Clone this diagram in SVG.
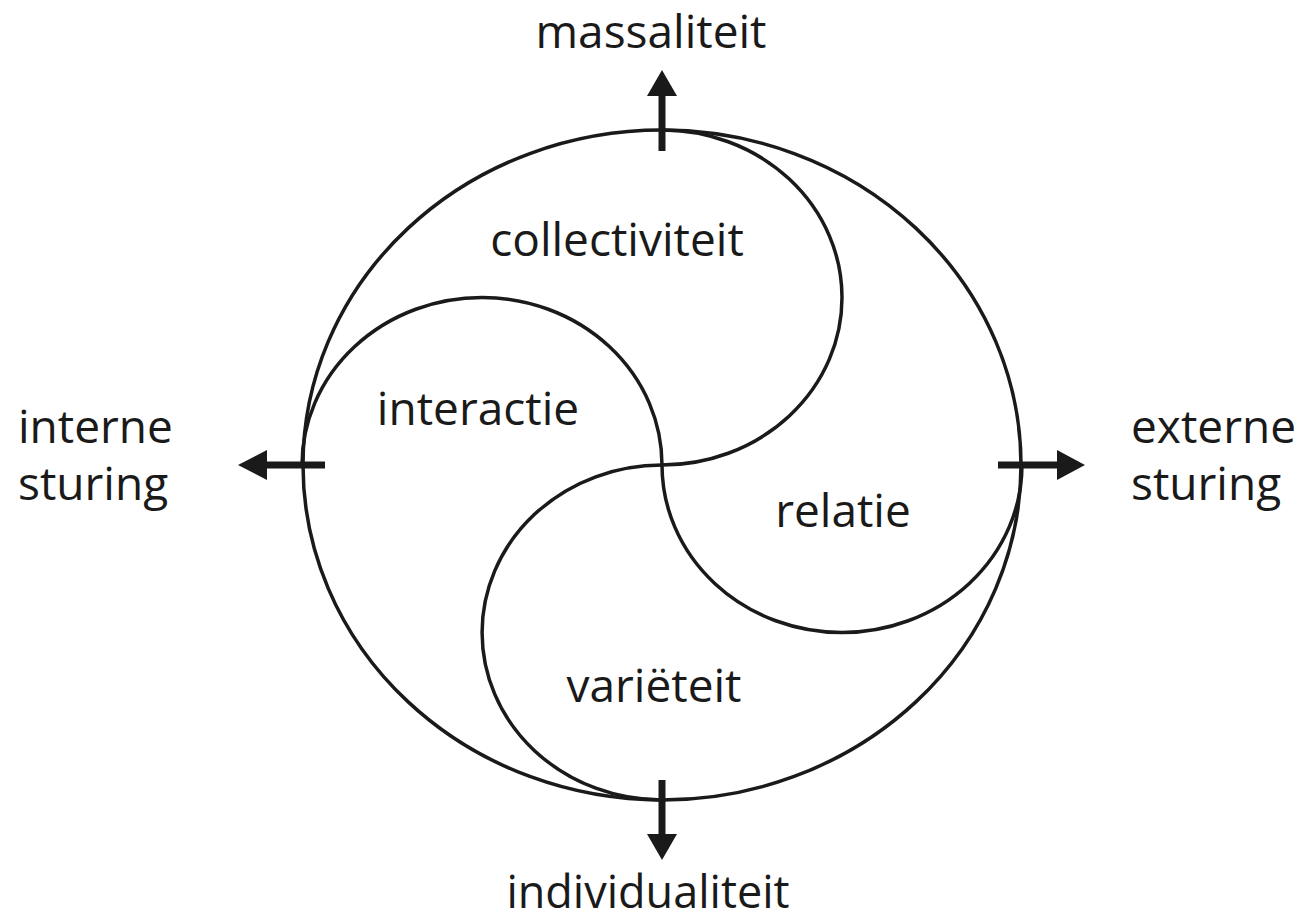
<svg xmlns="http://www.w3.org/2000/svg" width="1294" height="919" viewBox="0 0 1294 919">
<style>
.ln{fill:none;stroke:#1a1a1a;stroke-width:3.5}
.ax{stroke:#1a1a1a;stroke-width:7;fill:none}
.hd{fill:#1a1a1a}
text{font-family:"Open Sans","Noto Sans",sans-serif;font-size:46px;fill:#1a1a1a}
.m{text-anchor:middle}
</style>
<rect width="1294" height="919" fill="#fff"/>
<g id="circle">
<ellipse class="ln" cx="662" cy="465" rx="359" ry="335"/>
<path class="ln" d="M662,130 A180,167.5 0 0 1 662,465"/>
<path class="ln" d="M662,465 A180,167.5 0 0 0 662,800"/>
<path class="ln" d="M302,465 A180,167.5 0 0 1 662,465"/>
<path class="ln" d="M662,465 A180,167.5 0 0 0 1022,465"/>
</g>
<g id="connectors">
<line class="ax" x1="662" y1="151" x2="662" y2="92"/>
<polygon class="hd" points="662,70 647,96 677,96"/>
<line class="ax" x1="662" y1="780" x2="662" y2="838"/>
<polygon class="hd" points="662,860 647,834 677,834"/>
<line class="ax" x1="325" y1="465" x2="265" y2="465"/>
<polygon class="hd" points="238,465 267,450 267,480"/>
<line class="ax" x1="998" y1="465" x2="1060" y2="465"/>
<polygon class="hd" points="1085,465 1057,450 1057,480"/>
</g>
<g id="massaliteit"><text class="m" x="651" y="48">massaliteit</text></g>
<g id="individualiteit"><text class="m" x="648" y="908" style="font-size:45px">individualiteit</text></g>
<g id="interne"><text x="18" y="443">interne</text><text x="18" y="500">sturing</text></g>
<g id="externe"><text x="1131" y="443">externe</text><text x="1131" y="500">sturing</text></g>
<g id="collectiviteit"><text class="m" x="617" y="256">collectiviteit</text></g>
<g id="interactie"><text class="m" x="478" y="425">interactie</text></g>
<g id="relatie"><text class="m" x="843" y="527">relatie</text></g>
<g id="varieteit"><text class="m" x="654" y="702">variëteit</text></g>
</svg>
